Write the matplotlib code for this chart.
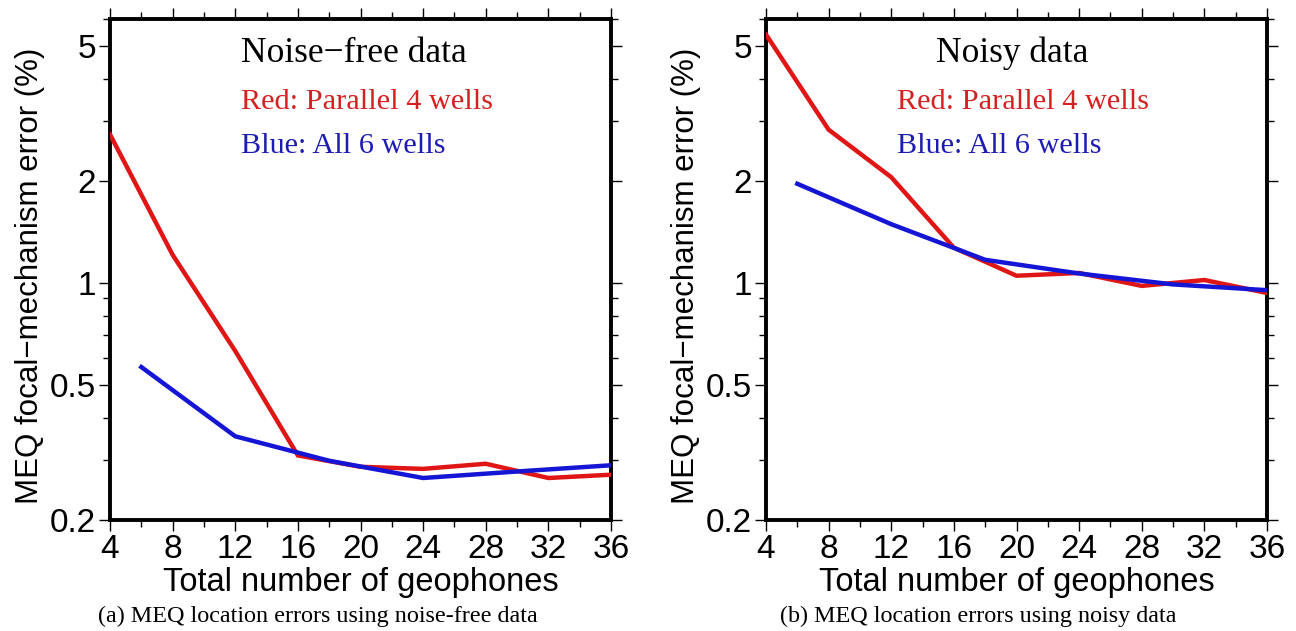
import numpy as np
import matplotlib
matplotlib.use('Agg')
import matplotlib.pyplot as plt
from matplotlib.ticker import FixedLocator, LogLocator, NullFormatter

# number of geophones
n_red = [4, 8, 12, 16, 20, 24, 28, 32, 36]
n_blue = [6, 12, 18, 24, 30, 36]

# (a) noise-free data
red_a = [2.74, 1.21, 0.63, 0.31, 0.287, 0.283, 0.293, 0.266, 0.272]
blue_a = [0.565, 0.353, 0.299, 0.266, 0.278, 0.290]

# (b) noisy data
red_b = [5.4, 2.83, 2.05, 1.27, 1.05, 1.07, 0.98, 1.02, 0.934]
blue_b = [1.96, 1.49, 1.17, 1.066, 0.99, 0.952]

yticks = [0.2, 0.5, 1, 2, 5]
ytick_labels = ['0.2', '0.5', '1', '2', '5']
xticks = [4, 8, 12, 16, 20, 24, 28, 32, 36]

titles = ['Noise\u2212free data', 'Noisy data']
captions = ['(a) MEQ location errors using noise-free data',
            '(b) MEQ location errors using noisy data']

W, H = 1296, 631
fig = plt.figure(figsize=(W / 100, H / 100), dpi=100)

sans = 'Liberation Sans'
serif = 'Liberation Serif'

def make_panel(left_px, red, blue, title, title_x, label_x, caption, cap_x):
    ax = fig.add_axes([left_px / W, (H - 520) / H, 501 / W, 501 / H])
    ax.plot(n_red, red, color='#e01515', lw=3.2, solid_joinstyle='miter', zorder=3)
    ax.plot(n_blue, blue, color='#1515d5', lw=3.2, solid_joinstyle='miter', zorder=4)
    ax.set_yscale('log')
    ax.set_xlim(4, 36)
    ax.set_ylim(0.2, 6.0)
    ax.yaxis.set_major_locator(FixedLocator(yticks))
    ax.set_yticklabels(ytick_labels, fontfamily=sans, fontsize=24)
    ax.yaxis.set_minor_locator(LogLocator(base=10, subs=np.arange(1, 10)))
    ax.yaxis.set_minor_formatter(NullFormatter())
    ax.set_xticks(xticks)
    ax.set_xticklabels([str(v) for v in xticks], fontfamily=sans, fontsize=24)
    ax.set_xticks(np.arange(6, 36, 4), minor=True)
    ax.tick_params(which='both', direction='out', top=True, right=True, width=1.0)
    ax.tick_params(which='major', length=8, pad=2)
    ax.tick_params(which='minor', length=5)
    for s in ax.spines.values():
        s.set_linewidth(2.8)
    ax.set_xlabel('Total number of geophones', fontfamily=sans, fontsize=23.5)
    ax.xaxis.set_label_coords(0.5, -0.093)
    ax.set_ylabel('MEQ focal\u2212mechanism error (%)', fontfamily=sans, fontsize=22.5)
    ax.yaxis.set_label_coords(-0.13, 0.488)
    ax.text(title_x, 0.932, title, transform=ax.transAxes, fontfamily=serif,
            fontsize=25.5, ha='left', va='center')
    ax.text(label_x, 0.834, 'Red: Parallel 4 wells', transform=ax.transAxes,
            fontfamily=serif, fontsize=21.8, color='#d42222', ha='left', va='center')
    ax.text(label_x, 0.746, 'Blue: All 6 wells', transform=ax.transAxes,
            fontfamily=serif, fontsize=21.8, color='#1c1cb0', ha='left', va='center')
    fig.text(cap_x / W, 1 - 616 / H, caption, fontfamily=serif, fontsize=17.4,
             ha='left', va='center')
    return ax

make_panel(110, red_a, blue_a, titles[0], 0.262, 0.262, captions[0], 98)
make_panel(766, red_b, blue_b, titles[1], 0.34, 0.262, captions[1], 780)

fig.savefig('out.png', dpi=100)
